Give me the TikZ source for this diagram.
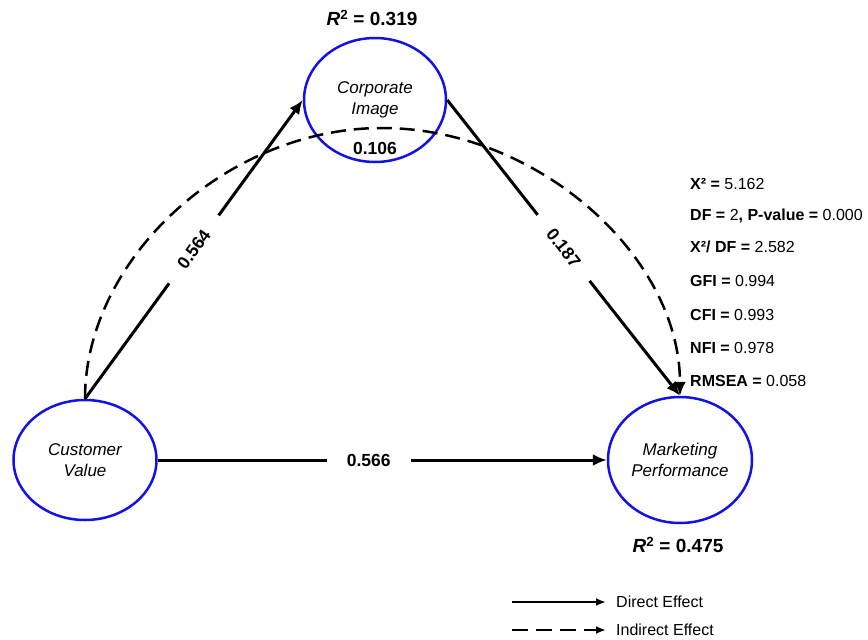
\documentclass[tikz,border=0pt]{standalone}
\usepackage{fontspec}
\setmainfont{Liberation Sans}
\usetikzlibrary{shapes.geometric,arrows.meta}
\definecolor{ovalblue}{RGB}{18,18,228}
\begin{document}
\begin{tikzpicture}[x=1pt,y=-1pt,
  construct/.style={ellipse, draw=ovalblue, line width=2.5pt, fill=white,
    inner sep=0pt, align=center, font=\fontsize{17}{20.5}\selectfont\itshape},
  direct/.style={line width=3pt, -{Latex[length=14pt,width=12pt]}},
  indirect/.style={line width=2.5pt, dash pattern=on 15pt off 8pt,
    -{Latex[length=14pt,width=12pt]}},
  coef/.style={fill=white, inner xsep=20pt, inner ysep=3pt,
    font=\fontsize{17.5}{17.5}\selectfont\bfseries},
  rsq/.style={font=\fontsize{19}{19}\selectfont\bfseries},
  fit/.style={anchor=base west, inner sep=0pt, font=\fontsize{16}{16}\selectfont},
  legendtext/.style={anchor=west, inner sep=0pt, font=\fontsize{16}{16}\selectfont}]
\useasboundingbox (0,0) rectangle (868,640);

% constructs
\node[construct, minimum width=142pt, minimum height=124pt] (ci) at (375,100) {Corporate\\Image};
\node[construct, minimum width=143pt, minimum height=120pt] (cv) at (85,460) {Customer\\Value};
\node[construct, minimum width=144pt, minimum height=126pt] (mp) at (680,460) {Marketing\\Performance};

% explained variance
\node[rsq] (r2ci) at (372,18) {\textit{R}\textsuperscript{2} = 0.319};
\node[rsq] (r2mp) at (678,545) {\textit{R}\textsuperscript{2} = 0.475};

% indirect path through the mediator
\coordinate (apex) at (382,128);
\draw[indirect] (cv.north) .. controls +(0,-140) and +(-155,0) .. (apex)
  .. controls +(155,0) and +(0,-140) .. (mp.north);
\node[font=\fontsize{17.5}{17.5}\selectfont\bfseries] (ind) at (375,148) {0.106};

% direct paths
\draw[direct] (cv.north) -- node[coef, sloped] (c1) {0.564} (ci.west);
\draw[direct] (ci.east) -- node[coef, sloped] (c2) {0.187} (mp.north);
\draw[direct] (cv.east) -- node[coef, pos=0.47] (c3) {0.566} (mp.west);

% model fit indices
\node[fit] (s1) at (690,189) {\textbf{X² =} 5.162};
\node[fit] (s2) at (690,220) {\textbf{DF =} 2\textbf{, P-value =} 0.000};
\node[fit] (s3) at (690,252) {\textbf{X²/ DF =} 2.582};
\node[fit] (s4) at (690,286) {\textbf{GFI =} 0.994};
\node[fit] (s5) at (690,320) {\textbf{CFI =} 0.993};
\node[fit] (s6) at (690,353) {\textbf{NFI =} 0.978};
\node[fit] (s7) at (690,386) {\textbf{RMSEA =} 0.058};

% legend
\coordinate (la) at (512,602);
\coordinate (lb) at (606,602);
\coordinate (lc) at (512,630);
\coordinate (ld) at (606,630);
\draw[line width=2.4pt, -{Latex[length=10pt,width=8pt]}] (la) -- (lb);
\draw[line width=2.4pt, dash pattern=on 16pt off 8pt, -{Latex[length=10pt,width=8pt]}] (lc) -- (ld);
\node[legendtext] (ldir) at (616,602) {Direct Effect};
\node[legendtext] (lind) at (616,630) {Indirect Effect};
\end{tikzpicture}
\end{document}
